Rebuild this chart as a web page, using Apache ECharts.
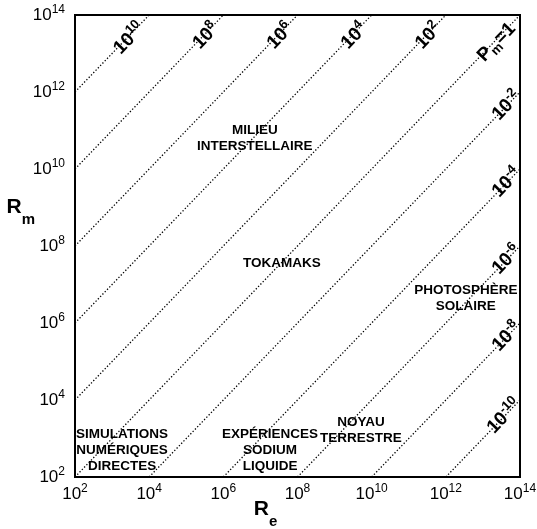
<!DOCTYPE html>
<html><head><meta charset="utf-8">
<script src="https://cdn.jsdelivr.net/npm/echarts@6/dist/echarts.min.js"></script>
<style>html,body{margin:0;padding:0;background:#fff}#c{width:537px;height:529px}</style>
</head><body><div id="c"></div>
<script>
// All values are log10 exponents
const reTicks = [2, 4, 6, 8, 10, 12, 14];
const rmTicks = [2, 4, 6, 8, 10, 12, 14];
const pmExponents = [10, 8, 6, 4, 2, 0, -2, -4, -6, -8, -10];
const regionNames = ['SIMULATIONS\nNUMÉRIQUES\nDIRECTES', 'EXPÉRIENCES\nSODIUM\nLIQUIDE', 'NOYAU\nTERRESTRE', 'TOKAMAKS', 'MILIEU\nINTERSTELLAIRE', 'PHOTOSPHÈRE\nSOLAIRE'];
const regionRe = [3.27, 7.26, 9.71, 7.58, 6.85, 12.54];
const regionRm = [2.70, 2.70, 3.21, 7.56, 10.8, 6.65];

const FONT = 'Liberation Sans, Arial, Helvetica, sans-serif';
const lo = reTicks[0], hi = reTicks[reTicks.length - 1];

const lineSeries = pmExponents.map(p => {
  const s = Math.max(lo, lo - p), e = Math.min(hi, hi - p);
  return {
    type: 'line', silent: true, symbol: 'none', animation: false,
    data: [[s, s + p], [e, e + p]],
    lineStyle: { color: '#000', width: 1.3, type: [1.3, 2] }
  };
});

// label anchors: just inside the end of each line
const labelData = pmExponents.map(p => {
  const e = Math.min(hi, hi - p);
  const v = p >= 0 ? [e - 0.2, e + p - 0.28] : [e - 0.05, e + p - 0.05];
  return { value: v, p: p };
});

const axisRich = {
  a: { fontSize: 17, lineHeight: 22, fontFamily: FONT, color: '#000' },
  b: { fontSize: 12, lineHeight: 12, fontFamily: FONT, color: '#000', verticalAlign: 'top' }
};
const fmt = v => '{a|10}{b|' + v + '}';
const nameRich = {
  r: { fontSize: 21, fontWeight: 'bold', fontFamily: FONT, color: '#000', lineHeight: 30, verticalAlign: 'top' },
  s: { fontSize: 15, fontWeight: 'bold', fontFamily: FONT, color: '#000', lineHeight: 15, verticalAlign: 'bottom' }
};

const option = {
  backgroundColor: '#fff',
  animation: false,
  grid: { left: 75, right: 17, top: 15, bottom: 52, show: true, borderColor: '#000', borderWidth: 2,
          containLabel: false, outerBoundsMode: 'none' },
  xAxis: {
    type: 'value', min: lo, max: hi, interval: 2,
    axisLine: { show: false }, axisTick: { show: false }, splitLine: { show: false },
    axisLabel: { margin: 6, formatter: fmt, rich: axisRich },
    name: '{r|R}{s|e}', nameLocation: 'middle', nameGap: 22, nameMoveOverlap: false,
    nameTextStyle: { padding: [0, 64, 0, 0], rich: nameRich }
  },
  yAxis: {
    type: 'value', min: lo, max: hi, interval: 2,
    axisLine: { show: false }, axisTick: { show: false }, splitLine: { show: false },
    axisLabel: { margin: 10, formatter: fmt, rich: axisRich },
    name: '{r|R}{s|m}', nameLocation: 'middle', nameGap: 40, nameRotate: 0, nameMoveOverlap: false,
    nameTextStyle: { padding: [0, 0, 68, 0], rich: nameRich }
  },
  series: lineSeries.concat([
    {
      type: 'scatter', symbolSize: 0, silent: true, animation: false,
      itemStyle: { opacity: 1 },
      data: labelData,
      label: {
        show: true, position: 'inside', align: 'right', verticalAlign: 'middle', rotate: 46,
        color: '#000', textBorderWidth: 0, opacity: 1,
        formatter: prm => prm.data.p === 0 ? '{b|P}{s|m}{b|=1}' : '{b|10}{u|' + prm.data.p + '}',
        rich: {
          b: { fontSize: 19, fontWeight: 'bold', lineHeight: 24, fontFamily: FONT, color: '#000' },
          u: { fontSize: 13, fontWeight: 'bold', lineHeight: 13, fontFamily: FONT, color: '#000', verticalAlign: 'top' },
          s: { fontSize: 13, fontWeight: 'bold', lineHeight: 13, fontFamily: FONT, color: '#000', verticalAlign: 'bottom' }
        }
      }
    },
    {
      type: 'scatter', symbolSize: 0, silent: true, animation: false,
      itemStyle: { opacity: 1 },
      data: regionNames.map((n, i) => ({ value: [regionRe[i], regionRm[i]], name: n })),
      label: {
        show: true, position: 'inside', align: 'center', verticalAlign: 'middle',
        formatter: prm => prm.name, textBorderWidth: 0, opacity: 1,
        fontSize: 13.5, fontWeight: 'bold', lineHeight: 16, fontFamily: FONT, color: '#000'
      }
    }
  ])
};
const chart = echarts.init(document.getElementById('c'), null, { renderer: 'canvas' });
chart.setOption(option);
</script></body></html>
